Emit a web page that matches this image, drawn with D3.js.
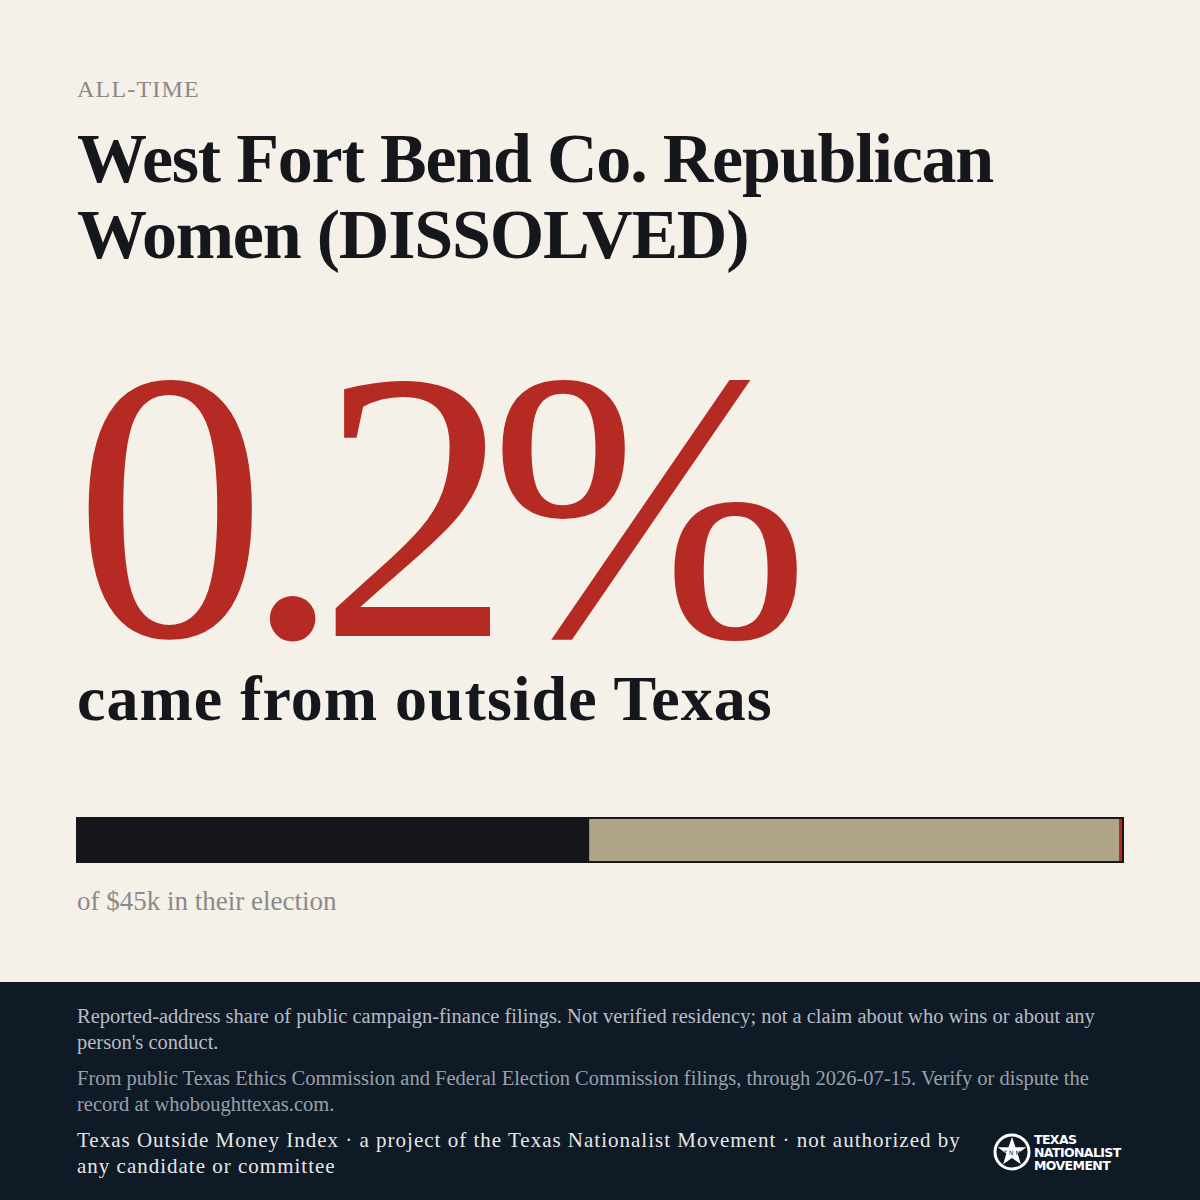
<!DOCTYPE html>
<html lang="en">
<head>
<meta charset="UTF-8">
<title>Outside Money</title>
<script src="https://cdn.jsdelivr.net/npm/d3@7"></script>
<style>
  body { margin: 0; background: #f5f0e8; }
  svg { display: block; }
</style>
</head>
<body>
<svg id="chart" width="1200" height="1200"></svg>
<script>
// data
const eyebrow = "ALL-TIME";
const titleLines = ["West Fort Bend Co. Republican", "Women (DISSOLVED)"];
const headline = "0.2%";
const subline = "came from outside Texas";
const segmentNames = ["In district", "Elsewhere in Texas", "Outside Texas"];
const segmentShares = [0.49, 0.508, 0.002];
const segmentColors = ["#15171c", "#b0a487", "#b52a22"];
const totalLabel = "of $45k in their election";
const footNotes = [
  ["Reported-address share of public campaign-finance filings. Not verified residency; not a claim about who wins or about any", "person's conduct."],
  ["From public Texas Ethics Commission and Federal Election Commission filings, through 2026-07-15. Verify or dispute the", "record at whoboughttexas.com."],
  ["Texas Outside Money Index · a project of the Texas Nationalist Movement · not authorized by", "any candidate or committee"]
];

const svg = d3.select("#chart");
const serif = "'Liberation Serif', 'DejaVu Serif', serif";
const ink = "#15171c";

svg.append("rect").attr("width", 1200).attr("height", 1200).attr("fill", "#f5f0e8");

svg.append("text").attr("x", 77).attr("y", 97).text(eyebrow)
  .attr("font-family", serif).attr("font-size", 24).attr("letter-spacing", 1.2).attr("fill", "#8a8a8a");

svg.selectAll(".title").data(titleLines).join("text")
  .attr("x", 77).attr("y", (d, i) => 182 + i * 76).text(d => d)
  .attr("font-family", serif).attr("font-size", 70).attr("font-weight", "bold")
  .attr("letter-spacing", -1.2).attr("fill", ink);

svg.append("text").attr("x", 74).attr("y", 636).text(headline)
  .attr("font-family", serif).attr("font-size", 385).attr("letter-spacing", -22)
  .attr("fill", "#b52a22");

svg.append("text").attr("x", 77).attr("y", 720).text(subline)
  .attr("font-family", serif).attr("font-size", 64).attr("font-weight", "bold")
  .attr("letter-spacing", 1).attr("fill", ink);

// stacked bar
const x0 = 78, x1 = 1122;
const x = d3.scaleLinear().domain([0, 1]).range([x0, x1]);
const cum = d3.cumsum(segmentShares);
const segs = segmentShares.map((v, i) => ({ name: segmentNames[i], start: cum[i] - v, end: cum[i], color: segmentColors[i] }));
svg.selectAll(".seg").data(segs).join("rect")
  .attr("x", d => d.end === 1 ? Math.min(x(d.start), x1 - 3) : x(d.start))
  .attr("y", 819)
  .attr("width", d => Math.max(3, x(d.end) - x(d.start)))
  .attr("height", 42)
  .attr("fill", d => d.color);
svg.append("rect").attr("x", 77).attr("y", 818).attr("width", 1046).attr("height", 44)
  .attr("fill", "none").attr("stroke", ink).attr("stroke-width", 2);

svg.append("text").attr("x", 77).attr("y", 910).text(totalLabel)
  .attr("font-family", serif).attr("font-size", 27).attr("fill", "#8a8a8a");

// footer
svg.append("rect").attr("y", 982).attr("width", 1200).attr("height", 218).attr("fill", "#0f1a27");
const footColors = ["#b8bcc4", "#9aa0aa", "#e6e6e6"];
const footY = [1023, 1085, 1147];
footNotes.forEach((lines, k) => {
  svg.selectAll(".f" + k).data(lines).join("text")
    .attr("x", 77).attr("y", (d, i) => footY[k] + i * 26).text(d => d)
    .attr("font-family", serif).attr("font-size", k === 2 ? 21 : 20.5)
    .attr("letter-spacing", k === 2 ? 1 : 0).attr("fill", footColors[k]);
});

// logo
const logo = svg.append("g").attr("transform", "translate(1012,1152)");
logo.append("circle").attr("r", 17).attr("fill", "none").attr("stroke", "#fff").attr("stroke-width", 3);
const star = d3.range(10).map(i => {
  const a = -Math.PI / 2 + i * Math.PI / 5, r = i % 2 ? 6 : 15;
  return [r * Math.cos(a), r * Math.sin(a)];
});
logo.append("path").attr("d", d3.line()(star) + "Z").attr("fill", "#fff");
logo.append("text").attr("y", 3).attr("text-anchor", "middle").text("T N M")
  .attr("font-family", "DejaVu Sans").attr("font-size", 6).attr("fill", "#0f1a27");
svg.selectAll(".logo-t").data(["TEXAS", "NATIONALIST", "MOVEMENT"]).join("text")
  .attr("x", 1034).attr("y", (d, i) => 1144 + i * 13).text(d => d)
  .attr("font-family", "'DejaVu Sans', sans-serif").attr("font-weight", "bold")
  .attr("font-size", 12.5).attr("letter-spacing", -0.6).attr("fill", "#fff");
</script>
</body>
</html>
